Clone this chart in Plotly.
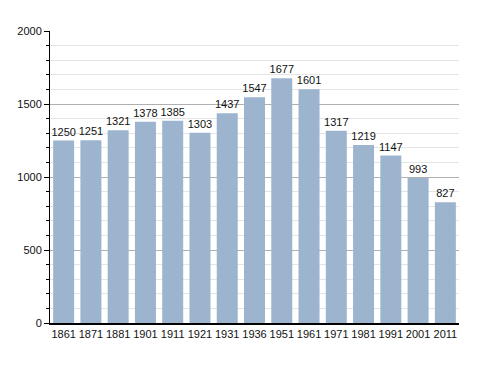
import plotly.graph_objects as go

years = ["1861", "1871", "1881", "1901", "1911", "1921", "1931", "1936",
         "1951", "1961", "1971", "1981", "1991", "2001", "2011"]
population = [1250, 1251, 1321, 1378, 1385, 1303, 1437, 1547,
              1677, 1601, 1317, 1219, 1147, 993, 827]

fig = go.Figure(go.Bar(
    x=years, y=population,
    text=[str(v) for v in population],
    textposition="outside",
    constraintext="none",
    textfont=dict(family="Liberation Sans, Arial", size=11, color="#111"),
    marker=dict(color="#9db4cf", line=dict(width=0)),
    width=0.77,
    cliponaxis=False,
))

fig.update_layout(
    width=488, height=373,
    margin=dict(l=50, r=29, t=31, b=50),
    paper_bgcolor="white", plot_bgcolor="white",
    showlegend=False,
    font=dict(family="Liberation Sans, Arial", size=11, color="#111"),
    xaxis=dict(
        type="category", showgrid=False, showline=True, linecolor="black",
        linewidth=1.5, ticks="", tickfont=dict(size=11), range=[-0.5, 14.5],
    ),
    yaxis=dict(
        range=[0, 2000], dtick=500, tick0=0, showline=True, linecolor="black",
        linewidth=1, ticks="outside", ticklen=5, tickcolor="black",
        gridcolor="#b0b0b0", gridwidth=1, zeroline=False,
        tickfont=dict(size=11),
        minor=dict(dtick=100, showgrid=True, gridcolor="#e4e4e4",
                   ticks="outside", ticklen=3, tickcolor="black"),
    ),
)

fig.write_html("out.html")
